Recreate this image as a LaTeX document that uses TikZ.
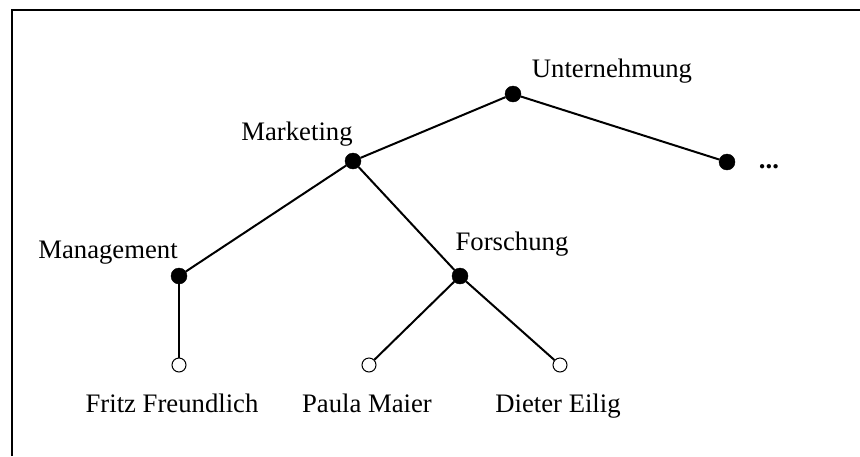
\documentclass[tikz,border=0pt]{standalone}
\usepackage{fontspec}
\setmainfont{Liberation Serif}
\usepackage{tikz}

\begin{document}
\begin{tikzpicture}[x=1pt, y=-1pt,
  knot/.style={circle, draw=black, fill=black, minimum size=16pt, inner sep=0pt},
  blatt/.style={circle, draw=black, fill=white, line width=1pt, minimum size=14pt, inner sep=0pt},
  kante/.style={line width=2pt},
  lbl/.style={font=\fontsize{26.7}{32}\selectfont, anchor=base, inner sep=0pt}]
\useasboundingbox (0,0) rectangle (860,456);

% frame
\draw [line width=2pt] (12,456) -- (12,10) -- (860,10);

% inner nodes
\node [knot] (Unt) at (513,94) {};
\node [knot] (Mkt) at (353,161) {};
\node [knot] (Weiter) at (727,162) {};
\node [knot] (Mgt) at (179,276) {};
\node [knot] (For) at (460,276) {};

% leaves
\node [blatt] (Fritz)  at (179,365) {};
\node [blatt] (Paula)  at (369,365) {};
\node [blatt] (Dieter) at (560,365) {};

% connectors
\draw [kante] (Unt) -- (Mkt);
\draw [kante] (Unt) -- (Weiter);
\draw [kante] (Mkt) -- (Mgt);
\draw [kante] (Mkt) -- (For);
\draw [kante] (Mgt) -- (Fritz);
\draw [kante] (For) -- (Paula);
\draw [kante] (For) -- (Dieter);

% labels
\node [lbl] (tUnt) at (612,77) {Unternehmung};
\node [lbl] (tMkt) at (297,140) {Marketing};
\node [lbl] (tMgt) at (108,258) {Management};
\node [lbl] (tFor) at (512,250) {Forschung};
\node [lbl] (tFritz)  at (172,412) {Fritz Freundlich};
\node [lbl] (tPaula)  at (367,412) {Paula Maier};
\node [lbl] (tDieter) at (558,412) {Dieter Eilig};
\node [lbl] (tWeiter) at (769,168) {\textbf{...}};
\end{tikzpicture}
\end{document}
